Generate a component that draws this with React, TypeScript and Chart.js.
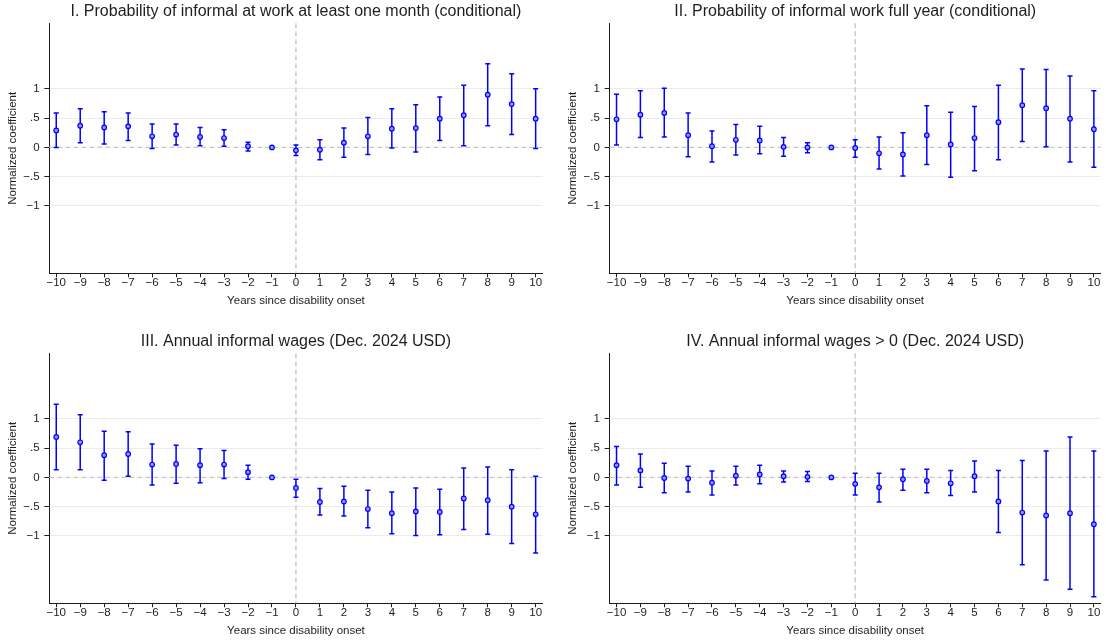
import React, { useEffect, useRef } from "react";
import { Chart, registerables } from "chart.js";
Chart.register(...registerables);

const years = [-10, -9, -8, -7, -6, -5, -4, -3, -2, -1, 0, 1, 2, 3, 4, 5, 6, 7, 8, 9, 10];
const xTickLabels = ["−10", "−9", "−8", "−7", "−6", "−5", "−4", "−3", "−2", "−1", "0", "1", "2", "3", "4", "5", "6", "7", "8", "9", "10"];
const yTickValues = [-1, -0.5, 0, 0.5, 1];
const yTickLabels = ["−1", "−.5", "0", ".5", "1"];

const titles = [
  "I. Probability of informal at work at least one month (conditional)",
  "II. Probability of informal work full year (conditional)",
  "III. Annual informal wages (Dec. 2024 USD)",
  "IV. Annual informal wages > 0 (Dec. 2024 USD)",
];
const xTitle = "Years since disability onset";
const yTitle = "Normalized coefficient";

// Panel I
const coef1 = [0.29, 0.37, 0.34, 0.36, 0.19, 0.22, 0.18, 0.16, 0.02, 0, -0.05, -0.04, 0.08, 0.19, 0.32, 0.33, 0.49, 0.55, 0.9, 0.74, 0.49];
const lo1 = [0.0, 0.08, 0.06, 0.12, -0.02, 0.04, 0.03, 0.02, -0.06, 0, -0.14, -0.21, -0.17, -0.12, -0.01, -0.08, 0.12, 0.03, 0.37, 0.22, -0.02];
const hi1 = [0.59, 0.66, 0.61, 0.59, 0.4, 0.4, 0.34, 0.3, 0.09, 0, 0.04, 0.13, 0.33, 0.51, 0.66, 0.73, 0.86, 1.06, 1.43, 1.26, 1.0];

// Panel II
const coef2 = [0.48, 0.56, 0.59, 0.21, 0.02, 0.13, 0.12, 0.01, 0.0, 0, -0.01, -0.1, -0.12, 0.21, 0.05, 0.16, 0.43, 0.72, 0.67, 0.49, 0.31];
const lo2 = [0.04, 0.17, 0.18, -0.16, -0.25, -0.13, -0.11, -0.15, -0.09, 0, -0.17, -0.37, -0.49, -0.29, -0.51, -0.4, -0.21, 0.1, 0.01, -0.25, -0.34];
const hi2 = [0.91, 0.97, 1.01, 0.59, 0.28, 0.39, 0.36, 0.17, 0.08, 0, 0.13, 0.18, 0.25, 0.71, 0.6, 0.7, 1.06, 1.34, 1.33, 1.22, 0.97];

// Panel III
const coef3 = [0.69, 0.6, 0.38, 0.4, 0.22, 0.23, 0.21, 0.22, 0.09, 0, -0.18, -0.42, -0.41, -0.54, -0.61, -0.58, -0.59, -0.36, -0.39, -0.5, -0.63];
const lo3 = [0.13, 0.13, -0.05, 0.02, -0.13, -0.1, -0.09, -0.02, -0.03, 0, -0.34, -0.64, -0.66, -0.86, -0.96, -0.99, -0.98, -0.89, -0.97, -1.13, -1.29];
const hi3 = [1.25, 1.07, 0.79, 0.78, 0.57, 0.55, 0.49, 0.46, 0.21, 0, -0.03, -0.19, -0.15, -0.22, -0.25, -0.18, -0.2, 0.16, 0.18, 0.13, 0.02];

// Panel IV
const coef4 = [0.21, 0.12, -0.01, -0.02, -0.09, 0.03, 0.05, 0.02, 0.01, 0, -0.11, -0.17, -0.03, -0.06, -0.1, 0.02, -0.41, -0.6, -0.65, -0.61, -0.8];
const lo4 = [-0.13, -0.17, -0.26, -0.25, -0.3, -0.13, -0.11, -0.08, -0.07, 0, -0.3, -0.42, -0.22, -0.26, -0.31, -0.25, -0.94, -1.49, -1.75, -1.91, -2.04];
const hi4 = [0.53, 0.4, 0.24, 0.19, 0.11, 0.19, 0.21, 0.11, 0.1, 0, 0.07, 0.07, 0.14, 0.14, 0.12, 0.28, 0.12, 0.29, 0.45, 0.69, 0.45];

const FONT = "'Liberation Sans', Arial, Helvetica, sans-serif";
const TEXT = "#1e1e1e";
const BLUE = "#0000ff";

type PanelProps = {
  title: string;
  coef: number[];
  lo: number[];
  hi: number[];
  left: number;
  top: number;
  yWidth: number;
  yTitlePad: number;
  padRight: number;
};

function Panel({ title, coef, lo, hi, left, top, yWidth, yTitlePad, padRight }: PanelProps) {
  const ref = useRef<HTMLCanvasElement | null>(null);
  useEffect(() => {
    if (!ref.current) return;
    const refAndBars = {
      id: "refAndBars",
      beforeDatasetsDraw(chart: any) {
        const { ctx, chartArea, scales } = chart;
        const x = scales.x;
        const y = scales.y;
        ctx.save();
        ctx.strokeStyle = "#c8c8c8";
        ctx.lineWidth = 1.4;
        ctx.setLineDash([5, 3]);
        const y0 = y.getPixelForValue(0);
        ctx.beginPath();
        ctx.moveTo(chartArea.left, y0);
        ctx.lineTo(chartArea.right, y0);
        ctx.stroke();
        const x0 = x.getPixelForValue(0);
        ctx.beginPath();
        ctx.moveTo(x0, chartArea.top);
        ctx.lineTo(x0, chartArea.bottom);
        ctx.stroke();
        ctx.setLineDash([]);
        ctx.strokeStyle = BLUE;
        ctx.lineWidth = 1.5;
        for (let i = 0; i < years.length; i++) {
          if (hi[i] === lo[i]) continue;
          const px = x.getPixelForValue(years[i]);
          const pl = y.getPixelForValue(lo[i]);
          const ph = y.getPixelForValue(hi[i]);
          ctx.beginPath();
          ctx.moveTo(px, pl);
          ctx.lineTo(px, ph);
          ctx.moveTo(px - 2.5, pl);
          ctx.lineTo(px + 2.5, pl);
          ctx.moveTo(px - 2.5, ph);
          ctx.lineTo(px + 2.5, ph);
          ctx.stroke();
        }
        ctx.restore();
      },
    };
    const small = { family: FONT, size: 11.5, lineHeight: 1.2 };
    const chart = new Chart(ref.current, {
      type: "scatter",
      data: {
        datasets: [
          {
            data: years.map((yr, i) => ({ x: yr, y: coef[i] })),
            pointRadius: 2.3,
            pointBorderWidth: 1.2,
            pointBorderColor: BLUE,
            pointBackgroundColor: "rgba(150,150,255,1)",
            showLine: false,
          },
        ],
      },
      options: {
        animation: false,
        responsive: false,
        events: [],
        layout: { padding: { left: 0, right: padRight, top: 0, bottom: 0 } },
        plugins: {
          legend: { display: false },
          tooltip: { enabled: false },
          title: {
            display: true,
            fullSize: false,
            text: title,
            color: TEXT,
            font: { family: FONT, size: 16, weight: "normal", lineHeight: 1.2 },
            padding: { top: 2.2, bottom: 1.9 },
          },
        },
        scales: {
          x: {
            type: "linear",
            min: -10.29,
            max: 10.29,
            afterBuildTicks: (s: any) => {
              s.ticks = years.map((v) => ({ value: v }));
            },
            afterFit: (s: any) => {
              s.height = 39.7;
              s.paddingLeft = 0;
              s.paddingRight = 0;
            },
            ticks: {
              autoSkip: false,
              maxRotation: 0,
              padding: 0,
              color: TEXT,
              font: { family: FONT, size: 11.5, lineHeight: 1 },
              callback: (v: any) => {
                const i = years.indexOf(Number(v));
                return i >= 0 ? xTickLabels[i] : "";
              },
            },
            grid: { drawOnChartArea: false, drawTicks: true, tickLength: 4, tickColor: TEXT, tickWidth: 1 },
            border: { display: true, color: TEXT, width: 1 },
            title: { display: true, text: xTitle, color: TEXT, font: small, padding: { top: 0, bottom: 5.5 } },
          },
          y: {
            type: "linear",
            min: -2.15,
            max: 2.12,
            afterBuildTicks: (s: any) => {
              s.ticks = yTickValues.map((v) => ({ value: v }));
            },
            afterFit: (s: any) => {
              s.width = yWidth;
              s.paddingTop = 0;
              s.paddingBottom = 0;
            },
            ticks: {
              padding: 4.7,
              color: TEXT,
              font: { family: FONT, size: 11.5, lineHeight: 1 },
              callback: (v: any) => {
                const i = yTickValues.indexOf(Number(v));
                return i >= 0 ? yTickLabels[i] : "";
              },
            },
            grid: {
              color: (c: any) => (c.tick && c.tick.value === 0 ? "rgba(0,0,0,0)" : "#ebebeb"),
              lineWidth: 1,
              drawTicks: true,
              tickLength: 5,
              tickColor: TEXT,
              tickWidth: 1,
            },
            border: { display: true, color: TEXT, width: 1 },
            title: { display: true, text: yTitle, color: TEXT, font: small, padding: { top: yTitlePad, bottom: 0 } },
          },
        },
      },
      plugins: [refAndBars],
    } as any);
    return () => chart.destroy();
  }, [title, coef, lo, hi, yWidth, yTitlePad, padRight]);
  return (
    <canvas
      ref={ref}
      width={553}
      height={313}
      style={{ position: "absolute", left, top, width: 553, height: 313 }}
    />
  );
}

export default function App() {
  return (
    <div style={{ position: "absolute", left: 0, top: 0, width: 1106, height: 643, background: "#fff", overflow: "hidden" }}>
      <Panel title={titles[0]} coef={coef1} lo={lo1} hi={hi1} left={0} top={0} yWidth={49.3} yTitlePad={6.4} padRight={10.4} />
      <Panel title={titles[1]} coef={coef2} lo={lo2} hi={hi2} left={553} top={0} yWidth={56.6} yTitlePad={12.5} padRight={2.8} />
      <Panel title={titles[2]} coef={coef3} lo={lo3} hi={hi3} left={0} top={330} yWidth={49.3} yTitlePad={6.4} padRight={10.4} />
      <Panel title={titles[3]} coef={coef4} lo={lo4} hi={hi4} left={553} top={330} yWidth={56.6} yTitlePad={12.5} padRight={2.8} />
    </div>
  );
}
